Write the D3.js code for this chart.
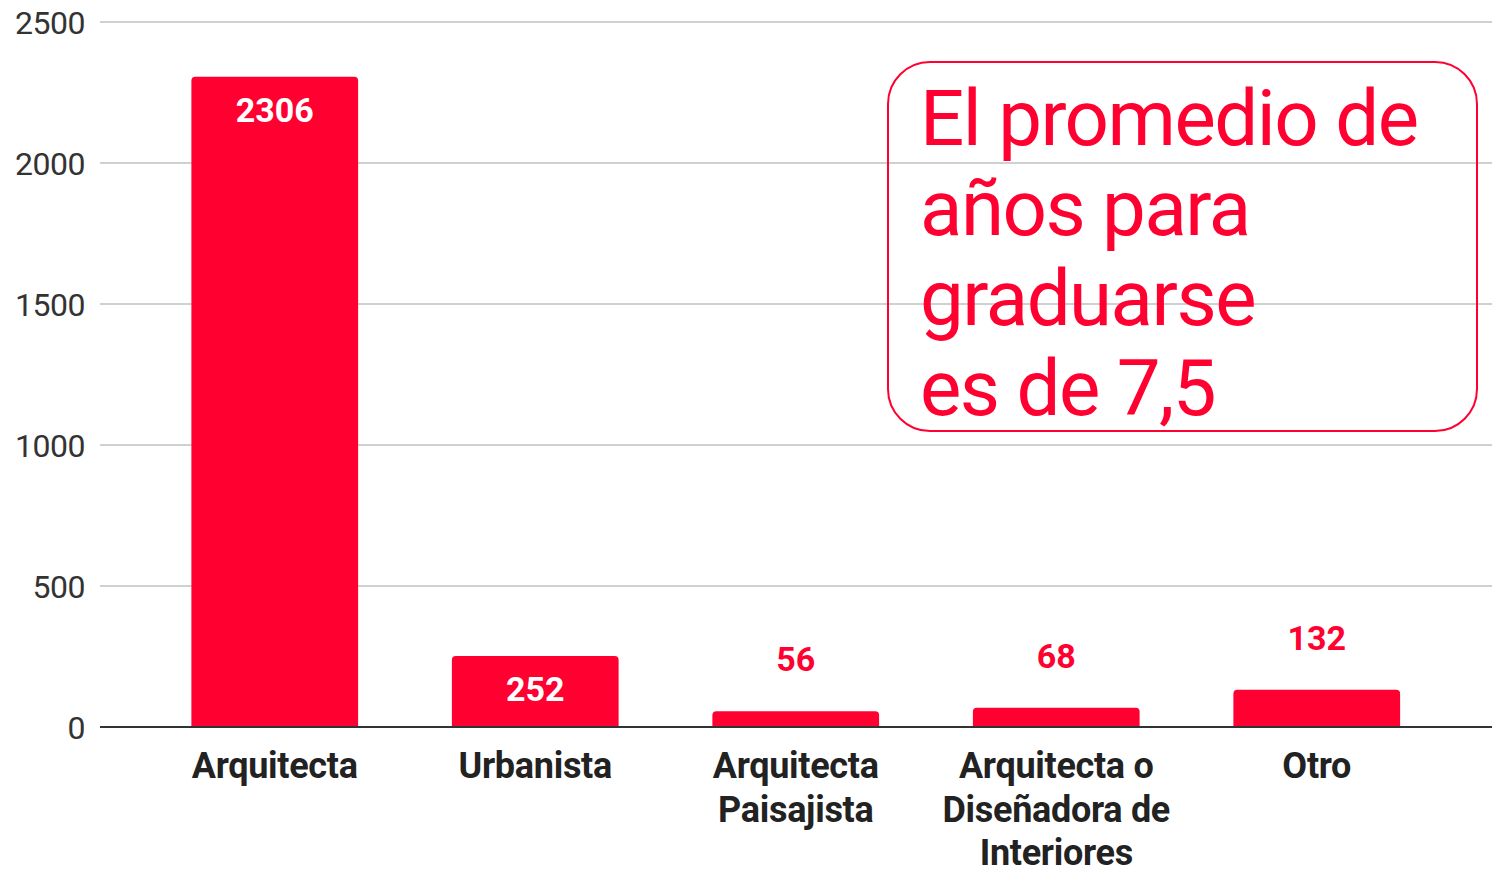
<!DOCTYPE html>
<html lang="es">
  <head>
    <meta charset="utf-8" />
    <title>Profesión</title>
    <script src="https://d3js.org/d3.v7.min.js"></script>
    <style type="text/css">
      body { margin: 0; background: #fff; }
      text { font-family: Roboto, "Noto Sans", sans-serif; }
    </style>
  </head>
  <body>
    <script type="text/javascript">
      const categories = [
        ["Arquitecta"],
        ["Urbanista"],
        ["Arquitecta", "Paisajista"],
        ["Arquitecta o", "Diseñadora de", "Interiores"],
        ["Otro"]
      ];
      const values = [2306, 252, 56, 68, 132];
      const yTicks = [0, 500, 1000, 1500, 2000, 2500];
      const note = ["El promedio de", "años para", "graduarse", "es de 7,5"];

      const w = 1495;
      const h = 874;
      const red = "#ff0031";

      const svg = d3.select("body").append("svg")
        .attr("width", w)
        .attr("height", h);

      const xScale = d3.scaleBand()
        .domain(d3.range(values.length))
        .range([144.5, 1447])
        .paddingInner(0.36)
        .paddingOuter(0.18);

      const yScale = d3.scaleLinear()
        .domain([0, 2500])
        .range([727, 22]);

      // gridlines
      svg.selectAll("line.grid")
        .data(yTicks.filter(d => d > 0))
        .enter()
        .append("line")
        .attr("class", "grid")
        .attr("x1", 100)
        .attr("x2", 1492)
        .attr("y1", d => yScale(d))
        .attr("y2", d => yScale(d))
        .attr("stroke", "#d0d0d0")
        .attr("stroke-width", 2);

      // y labels
      svg.selectAll("text.ytick")
        .data(yTicks)
        .enter()
        .append("text")
        .attr("class", "ytick")
        .attr("x", 85)
        .attr("y", d => yScale(d) + 11.5)
        .attr("text-anchor", "end")
        .attr("font-size", 32)
        .attr("letter-spacing", -0.5)
        .attr("fill", "#333")
        .text(d => d);

      // bars, with rounded top corners
      const r = 4;
      svg.selectAll("path.bar")
        .data(values)
        .enter()
        .append("path")
        .attr("class", "bar")
        .attr("fill", red)
        .attr("d", function (d, i) {
          const x0 = xScale(i);
          const x1 = x0 + xScale.bandwidth();
          const y0 = yScale(d);
          const yb = yScale(0);
          return "M" + x0 + "," + yb +
            "V" + (y0 + r) +
            "Q" + x0 + "," + y0 + " " + (x0 + r) + "," + y0 +
            "H" + (x1 - r) +
            "Q" + x1 + "," + y0 + " " + x1 + "," + (y0 + r) +
            "V" + yb + "Z";
        });

      // baseline
      svg.append("line")
        .attr("x1", 100)
        .attr("x2", 1492)
        .attr("y1", yScale(0))
        .attr("y2", yScale(0))
        .attr("stroke", "#333")
        .attr("stroke-width", 2);

      // value labels: inside for tall bars, above for short ones
      svg.selectAll("text.val")
        .data(values)
        .enter()
        .append("text")
        .attr("class", "val")
        .attr("x", (d, i) => xScale(i) + xScale.bandwidth() / 2)
        .attr("y", d => d > 200 ? yScale(d) + 45 : yScale(d) - 40)
        .attr("text-anchor", "middle")
        .attr("font-size", 34)
        .attr("font-weight", "bold")
        .attr("fill", d => d > 200 ? "#fff" : red)
        .text(d => d);

      // category labels
      const cat = svg.selectAll("text.cat")
        .data(categories)
        .enter()
        .append("text")
        .attr("class", "cat")
        .attr("text-anchor", "middle")
        .attr("font-size", 36)
        .attr("font-weight", "bold")
        .attr("letter-spacing", -0.3)
        .attr("fill", "#222");

      cat.selectAll("tspan")
        .data((d, i) => d.map(t => ({ t: t, i: i })))
        .enter()
        .append("tspan")
        .attr("x", d => xScale(d.i) + xScale.bandwidth() / 2)
        .attr("y", (d, j) => 778 + j * 43.5)
        .text(d => d.t);

      // annotation box
      svg.append("rect")
        .attr("x", 888)
        .attr("y", 62)
        .attr("width", 589)
        .attr("height", 369)
        .attr("rx", 42)
        .attr("fill", "none")
        .attr("stroke", red)
        .attr("stroke-width", 2);

      svg.selectAll("text.note")
        .data(note)
        .enter()
        .append("text")
        .attr("class", "note")
        .attr("x", 920)
        .attr("y", (d, i) => 145 + i * 90)
        .attr("font-size", 78)
        .attr("letter-spacing", -1.5)
        .attr("fill", red)
        .text(d => d);
    </script>
  </body>
</html>
